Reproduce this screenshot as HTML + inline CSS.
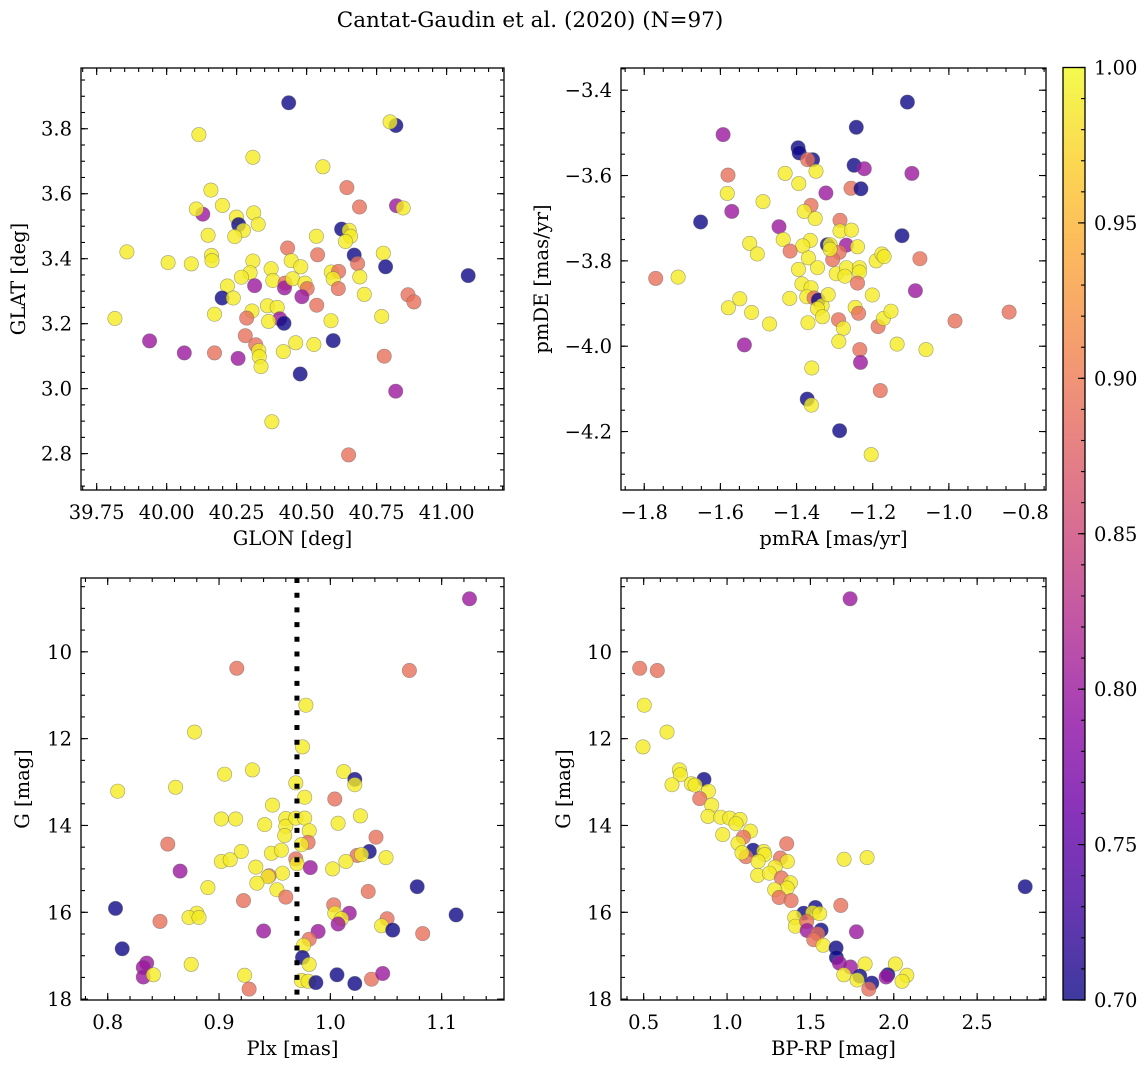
<!DOCTYPE html>
<html><head><meta charset="utf-8">
<style>
html,body{margin:0;padding:0;background:#fff;}
svg{display:block;font-family:"DejaVu Serif","Liberation Serif",serif;}
</style></head>
<body>
<svg id="fig" width="1148" height="1067" viewBox="0 0 1148 1067" xmlns="http://www.w3.org/2000/svg">
<text x="530" y="27" font-size="21.5" text-anchor="middle">Cantat-Gaudin et al. (2020) (N=97)</text>
</svg>
<script>
// ---------- Panel 1: GLON / GLAT ----------
const p1Lon=[40.436,40.819,40.798,40.115,40.308,40.558,40.644,40.158,40.689,40.821,40.845,40.199,40.129,40.106,40.249,40.257,40.274,40.243,40.311,40.327,40.148,40.625,40.652,40.657,40.639,40.535,39.858,40.432,40.539,40.774,40.670,40.682,40.782,41.077,40.005,40.088,40.160,40.162,40.308,40.298,40.267,40.373,40.379,40.445,40.479,40.588,40.614,40.595,40.690,40.706,40.423,40.421,40.450,40.494,40.502,40.483,40.314,40.217,40.198,40.238,40.613,40.862,40.883,40.536,40.768,39.815,40.171,40.360,40.395,40.404,40.419,40.364,40.305,40.286,40.587,39.939,40.063,40.171,40.255,40.281,40.318,40.329,40.331,40.337,40.417,40.461,40.526,40.595,40.477,40.777,40.818,40.376,40.650];
const p1Lat=[3.880,3.810,3.821,3.782,3.712,3.683,3.619,3.611,3.559,3.563,3.556,3.564,3.537,3.553,3.528,3.505,3.487,3.468,3.541,3.506,3.472,3.491,3.487,3.469,3.453,3.469,3.421,3.433,3.412,3.417,3.411,3.385,3.375,3.348,3.388,3.384,3.410,3.394,3.393,3.357,3.343,3.369,3.333,3.394,3.375,3.359,3.361,3.338,3.344,3.290,3.325,3.310,3.338,3.325,3.308,3.283,3.317,3.316,3.279,3.279,3.308,3.289,3.267,3.257,3.222,3.216,3.229,3.255,3.250,3.215,3.201,3.207,3.239,3.217,3.209,3.147,3.110,3.110,3.093,3.163,3.135,3.117,3.098,3.068,3.114,3.141,3.136,3.148,3.045,3.100,2.992,2.898,2.796];
const p1Prob=[0.70,0.70,0.99,0.99,0.99,0.99,0.89,0.99,0.89,0.80,0.99,0.99,0.80,0.99,0.99,0.70,0.99,0.99,0.99,0.99,0.99,0.70,0.99,0.99,0.99,0.99,0.99,0.89,0.89,0.99,0.70,0.89,0.70,0.70,0.99,0.99,0.99,0.99,0.99,0.99,0.99,0.99,0.99,0.99,0.99,0.99,0.89,0.99,0.99,0.99,0.89,0.80,0.99,0.99,0.89,0.80,0.80,0.99,0.70,0.99,0.89,0.89,0.89,0.89,0.99,0.99,0.99,0.99,0.99,0.80,0.70,0.99,0.99,0.89,0.99,0.80,0.80,0.89,0.80,0.89,0.89,0.99,0.99,0.99,0.99,0.99,0.99,0.70,0.70,0.89,0.80,0.99,0.89];
const p1XTicks=[39.75,40.00,40.25,40.50,40.75,41.00];
const p1XLabels=["39.75","40.00","40.25","40.50","40.75","41.00"];
const p1YTicks=[2.8,3.0,3.2,3.4,3.6,3.8];
const p1YLabels=["2.8","3.0","3.2","3.4","3.6","3.8"];

// ---------- Panel 2: pmRA / pmDE ----------
const p2RA=[-1.109,-1.243,-1.593,-1.396,-1.393,-1.358,-1.371,-1.349,-1.430,-1.249,-1.222,-1.097,-1.580,-1.394,-1.257,-1.231,-1.323,-1.582,-1.488,-1.362,-1.380,-1.570,-1.351,-1.652,-1.286,-1.286,-1.256,-1.446,-1.123,-1.435,-1.523,-1.503,-1.364,-1.384,-1.319,-1.312,-1.269,-1.240,-1.417,-1.288,-1.305,-1.312,-1.369,-1.191,-1.176,-1.170,-1.076,-1.770,-1.711,-1.395,-1.345,-1.296,-1.269,-1.273,-1.235,-1.235,-1.240,-1.386,-1.362,-1.088,-1.373,-1.354,-1.343,-1.333,-1.317,-1.418,-1.201,-1.549,-1.579,-1.518,-1.345,-1.332,-1.246,-1.237,-1.290,-1.277,-1.370,-1.471,-1.186,-1.172,-1.152,-0.984,-0.842,-1.289,-1.136,-1.060,-1.537,-1.234,-1.232,-1.360,-1.180,-1.372,-1.361,-1.287,-1.204];
const p2DE=[-3.428,-3.487,-3.504,-3.535,-3.547,-3.563,-3.563,-3.590,-3.595,-3.576,-3.584,-3.595,-3.599,-3.619,-3.630,-3.631,-3.641,-3.642,-3.661,-3.670,-3.684,-3.684,-3.701,-3.709,-3.705,-3.730,-3.728,-3.720,-3.741,-3.750,-3.759,-3.784,-3.752,-3.765,-3.762,-3.762,-3.763,-3.767,-3.777,-3.780,-3.797,-3.773,-3.793,-3.800,-3.784,-3.790,-3.795,-3.841,-3.838,-3.820,-3.816,-3.830,-3.816,-3.836,-3.816,-3.826,-3.852,-3.854,-3.863,-3.870,-3.884,-3.887,-3.892,-3.905,-3.879,-3.888,-3.880,-3.889,-3.910,-3.921,-3.912,-3.931,-3.909,-3.923,-3.938,-3.958,-3.945,-3.948,-3.954,-3.935,-3.918,-3.941,-3.920,-3.989,-3.995,-4.008,-3.997,-4.008,-4.038,-4.051,-4.104,-4.124,-4.138,-4.198,-4.254];
const p2Prob=[0.70,0.70,0.80,0.70,0.70,0.70,0.89,0.99,0.99,0.70,0.80,0.80,0.89,0.99,0.89,0.70,0.80,0.99,0.99,0.89,0.99,0.80,0.99,0.70,0.89,0.99,0.99,0.80,0.70,0.99,0.99,0.99,0.99,0.99,0.70,0.99,0.80,0.99,0.89,0.89,0.89,0.99,0.99,0.99,0.99,0.99,0.89,0.89,0.99,0.99,0.99,0.99,0.99,0.99,0.99,0.99,0.89,0.99,0.99,0.80,0.99,0.89,0.70,0.99,0.99,0.99,0.99,0.99,0.99,0.99,0.99,0.99,0.99,0.89,0.89,0.99,0.99,0.99,0.89,0.99,0.99,0.89,0.89,0.99,0.99,0.99,0.80,0.89,0.80,0.99,0.89,0.70,0.99,0.70,0.99];
const p2XTicks=[-1.8,-1.6,-1.4,-1.2,-1.0,-0.8];
const p2XLabels=["\u22121.8","\u22121.6","\u22121.4","\u22121.2","\u22121.0","\u22120.8"];
const p2YTicks=[-3.4,-3.6,-3.8,-4.0,-4.2];
const p2YLabels=["\u22123.4","\u22123.6","\u22123.8","\u22124.0","\u22124.2"];

// ---------- Panel 3: Plx / G ----------
const p3Plx=[1.125,0.916,1.071,0.978,0.878,0.975,0.905,0.930,1.012,1.022,1.022,0.809,0.861,0.969,0.977,1.004,0.948,0.902,0.915,0.941,0.960,0.960,0.969,0.977,1.007,1.027,0.981,0.959,1.041,0.854,0.980,0.974,0.920,0.947,0.956,1.035,1.024,1.028,1.050,1.014,0.902,0.910,0.969,0.970,0.982,0.933,1.002,0.865,0.957,0.945,0.944,0.934,0.952,0.890,0.960,1.078,1.034,0.922,0.807,1.003,1.004,1.017,1.010,1.007,1.113,0.880,0.873,0.882,0.847,1.051,1.046,1.056,1.083,0.940,0.989,0.981,0.976,0.813,0.975,0.981,0.835,0.832,0.832,0.841,0.875,0.923,0.927,1.006,1.022,1.037,1.047,0.974,0.980,0.987];
const p3G=[8.78,10.38,10.43,11.23,11.85,12.19,12.82,12.72,12.76,12.94,13.06,13.21,13.12,13.02,13.35,13.39,13.53,13.85,13.85,13.98,13.84,14.02,13.83,13.83,13.95,13.78,14.12,14.23,14.27,14.43,14.39,14.44,14.60,14.64,14.57,14.60,14.69,14.67,14.74,14.83,14.83,14.79,14.77,14.88,14.97,14.96,15.00,15.05,15.10,15.16,15.18,15.33,15.48,15.43,15.65,15.41,15.52,15.73,15.91,15.83,16.02,16.02,16.15,16.27,16.06,16.02,16.12,16.12,16.21,16.15,16.31,16.41,16.49,16.43,16.44,16.62,16.76,16.84,17.04,17.20,17.17,17.27,17.49,17.44,17.20,17.45,17.77,17.44,17.64,17.54,17.41,17.57,17.59,17.62];
const p3Prob=[0.80,0.89,0.89,0.99,0.99,0.99,0.99,0.99,0.99,0.70,0.99,0.99,0.99,0.99,0.99,0.89,0.99,0.99,0.99,0.99,0.99,0.99,0.99,0.99,0.99,0.99,0.99,0.99,0.89,0.89,0.89,0.99,0.99,0.99,0.99,0.70,0.89,0.99,0.99,0.99,0.99,0.99,0.89,0.99,0.80,0.99,0.99,0.80,0.99,0.89,0.99,0.99,0.99,0.99,0.89,0.70,0.89,0.89,0.70,0.89,0.99,0.80,0.99,0.80,0.70,0.99,0.99,0.99,0.89,0.89,0.99,0.70,0.89,0.80,0.80,0.89,0.99,0.70,0.70,0.99,0.80,0.80,0.80,0.99,0.99,0.99,0.89,0.70,0.70,0.89,0.80,0.99,0.99,0.70];
const p3MeanPlx=[0.970];
const p3XTicks=[0.8,0.9,1.0,1.1];
const p3XLabels=["0.8","0.9","1.0","1.1"];
const gTicks=[10,12,14,16,18];
const gLabels=["10","12","14","16","18"];

// ---------- Panel 4: BP-RP / G ----------
const p4BpRp=[1.738,0.476,0.582,0.504,0.640,0.496,0.714,0.720,0.862,0.670,0.786,0.808,0.888,0.836,0.908,0.886,0.962,1.016,1.078,1.054,1.140,0.974,1.098,1.358,1.066,1.156,1.220,1.114,1.090,1.226,1.186,1.320,1.362,1.184,1.288,1.254,1.326,1.380,1.360,1.286,1.312,1.384,1.702,1.840,1.682,2.788,1.460,1.530,1.514,1.556,1.406,1.410,1.478,1.480,1.564,1.544,1.520,1.576,1.776,1.654,1.656,1.674,1.740,1.828,2.010,1.700,1.796,1.780,1.868,1.850,1.964,1.954,2.078,2.050];
const p4G=[8.78,10.38,10.43,11.23,11.85,12.19,12.72,12.83,12.94,13.06,13.04,13.07,13.21,13.38,13.53,13.79,13.81,13.83,13.86,13.96,14.13,14.21,14.27,14.42,14.41,14.57,14.60,14.72,14.63,14.67,14.83,14.75,14.83,15.15,14.96,15.10,15.21,15.32,15.44,15.48,15.66,15.73,14.78,14.74,15.84,15.41,16.02,15.89,16.01,16.03,16.12,16.32,16.21,16.42,16.41,16.50,16.63,16.76,16.45,16.82,17.04,17.17,17.26,17.19,17.19,17.44,17.47,17.56,17.63,17.77,17.44,17.49,17.45,17.59];
const p4Prob=[0.80,0.89,0.89,0.99,0.99,0.99,0.99,0.99,0.70,0.99,0.99,0.99,0.99,0.89,0.99,0.99,0.99,0.99,0.99,0.99,0.99,0.99,0.89,0.89,0.99,0.70,0.99,0.89,0.99,0.99,0.99,0.89,0.99,0.99,0.99,0.99,0.89,0.99,0.99,0.99,0.89,0.89,0.99,0.99,0.89,0.70,0.70,0.70,0.99,0.99,0.99,0.99,0.89,0.80,0.70,0.89,0.89,0.99,0.80,0.70,0.70,0.80,0.80,0.99,0.99,0.99,0.70,0.99,0.70,0.89,0.70,0.80,0.99,0.99];
const p4XTicks=[0.5,1.0,1.5,2.0,2.5];
const p4XLabels=["0.5","1.0","1.5","2.0","2.5"];

// ---------- Colorbar ----------
const cbTicks=[0.70,0.75,0.80,0.85,0.90,0.95,1.00];
const cbLabels=["0.70","0.75","0.80","0.85","0.90","0.95","1.00"];
const cbMin=0.70, cbMax=1.00;

const FS=19.5;
const NS="http://www.w3.org/2000/svg";
const svg=document.getElementById('fig');
function mk(tag,attrs,parent){const e=document.createElementNS(NS,tag);for(const k in attrs)e.setAttribute(k,attrs[k]);(parent||svg).appendChild(e);return e;}

const plasmaStops=[[13,8,135],[65,4,157],[106,0,168],[143,13,164],[177,42,144],[204,71,120],[225,100,98],[242,132,75],[252,166,54],[252,206,37],[240,249,33]];
function plasma(t){t=Math.max(0,Math.min(1,t));const f=t*10,i=Math.min(9,Math.floor(f)),r=f-i;const a=plasmaStops[i],b=plasmaStops[i+1];return `rgb(${Math.round(a[0]+(b[0]-a[0])*r)},${Math.round(a[1]+(b[1]-a[1])*r)},${Math.round(a[2]+(b[2]-a[2])*r)})`;}
function pcol(p){return plasma((p-cbMin)/(cbMax-cbMin));}

function linScale(d0,d1,r0,r1){return v=>r0+(v-d0)/(d1-d0)*(r1-r0);}

function drawPanel(cfg){
  const g=mk('g',{});
  
  
  const {L,T,R,B}=cfg.box;
  const sx=linScale(cfg.xlim[0],cfg.xlim[1],L,R);
  const sy=linScale(cfg.ylim[0],cfg.ylim[1],B,T);
  const pts=mk('g',{},g);
  
  
  for(let i=0;i<cfg.xs.length;i++){
    const c=mk('circle',{cx:sx(cfg.xs[i]).toFixed(1),cy:sy(cfg.ys[i]).toFixed(1),r:7.2,fill:pcol(cfg.ps[i]),'fill-opacity':0.8,stroke:'#666','stroke-opacity':0.6,'stroke-width':0.6},pts);
    
    
  }
  if(cfg.extra) cfg.extra(g,sx,sy);
  const tk=mk('g',{stroke:'#000','stroke-width':1.1},g);
  cfg.xticks.forEach((v,i)=>{const x=sx(v);
    mk('line',{x1:x,y1:B,x2:x,y2:B-7},tk);mk('line',{x1:x,y1:T,x2:x,y2:T+7},tk);
    const t=mk('text',{x:x,y:B+29,'font-size':FS,'text-anchor':'middle',stroke:'none',fill:'#000'},g);t.textContent=cfg.xlabels[i];
    
    
  });
  cfg.yticks.forEach((v,i)=>{const y=sy(v);
    mk('line',{x1:L,y1:y,x2:L+7,y2:y},tk);mk('line',{x1:R,y1:y,x2:R-7,y2:y},tk);
    const t=mk('text',{x:L-9,y:y+7,'font-size':FS,'text-anchor':'end',stroke:'none',fill:'#000'},g);t.textContent=cfg.ylabels[i];
    
    
  });
  const lo=Math.min(...cfg.xlim),hi=Math.max(...cfg.xlim);
  for(let v=Math.ceil(lo/cfg.xminor-1e-6)*cfg.xminor;v<=hi+1e-9;v+=cfg.xminor){const x=sx(v);
    mk('line',{x1:x,y1:B,x2:x,y2:B-4},tk);mk('line',{x1:x,y1:T,x2:x,y2:T+4},tk);}
  const ylo=Math.min(...cfg.ylim),yhi=Math.max(...cfg.ylim);
  for(let v=Math.ceil(ylo/cfg.yminor-1e-6)*cfg.yminor;v<=yhi+1e-9;v+=cfg.yminor){const y=sy(v);
    mk('line',{x1:L,y1:y,x2:L+4,y2:y},tk);mk('line',{x1:R,y1:y,x2:R-4,y2:y},tk);}
  const fr=mk('rect',{x:L,y:T,width:R-L,height:B-T,fill:'none',stroke:'#000','stroke-width':1.3},g);
  
  
  const xl=mk('text',{x:(L+R)/2,y:B+55,'font-size':FS,'text-anchor':'middle'},g);xl.textContent=cfg.xtitle;
  
  
  const yx=cfg.ytitleX, yy=(T+B)/2;
  const yl=mk('text',{x:yx,y:yy,'font-size':FS,'text-anchor':'middle',transform:`rotate(-90 ${yx} ${yy})`},g);yl.textContent=cfg.ytitle;
  
  
}

drawPanel({name:'glon-glat-panel',box:{L:81,T:68,R:504,B:490},xlim:[39.694,41.205],ylim:[2.688,3.987],
  xs:p1Lon,ys:p1Lat,ps:p1Prob,xticks:p1XTicks,xlabels:p1XLabels,yticks:p1YTicks,ylabels:p1YLabels,
  xminor:0.05,yminor:0.05,xtitle:'GLON [deg]',ytitle:'GLAT [deg]',ytitleX:25});
drawPanel({name:'proper-motion-panel',box:{L:621,T:68,R:1046,B:490},xlim:[-1.861,-0.745],ylim:[-4.337,-3.348],
  xs:p2RA,ys:p2DE,ps:p2Prob,xticks:p2XTicks,xlabels:p2XLabels,yticks:p2YTicks,ylabels:p2YLabels,
  xminor:0.05,yminor:0.05,xtitle:'pmRA [mas/yr]',ytitle:'pmDE [mas/yr]',ytitleX:548});
drawPanel({name:'parallax-panel',box:{L:81,T:578,R:504,B:1000},xlim:[0.776,1.156],ylim:[18.02,8.30],
  xs:p3Plx,ys:p3G,ps:p3Prob,xticks:p3XTicks,xlabels:p3XLabels,yticks:gTicks,ylabels:gLabels,
  xminor:0.02,yminor:0.5,xtitle:'Plx [mas]',ytitle:'G [mag]',ytitleX:29,
  extra:(g,sx,sy)=>{p3MeanPlx.forEach(v=>{const x=sx(v);
    const l=mk('line',{x1:x,y1:578,x2:x,y2:1000,stroke:'#000','stroke-width':5,'stroke-dasharray':'5 9.7'},g);
    
    });}});
drawPanel({name:'cmd-panel',box:{L:621,T:578,R:1046,B:1000},xlim:[0.364,2.913],ylim:[18.02,8.30],
  xs:p4BpRp,ys:p4G,ps:p4Prob,xticks:p4XTicks,xlabels:p4XLabels,yticks:gTicks,ylabels:gLabels,
  xminor:0.1,yminor:0.5,xtitle:'BP-RP [mag]',ytitle:'G [mag]',ytitleX:570});

(function(){
  const L=1063,R=1085,T=67.5,B=1000;
  const g=mk('g',{});
  
  
  const defs=mk('defs',{},g);
  const lg=mk('linearGradient',{id:'cbg',x1:0,y1:1,x2:0,y2:0},defs);
  for(let i=0;i<=20;i++){mk('stop',{offset:i/20,'stop-color':plasma(i/20),'stop-opacity':0.8},lg);}
  mk('rect',{x:L,y:T,width:R-L,height:B-T,fill:'url(#cbg)'},g);
  const sc=linScale(cbMin,cbMax,B,T);
  for(let k=0;k<=30;k++){const y=sc(cbMin+k*0.01);mk('line',{x1:R,y1:y,x2:R-4,y2:y,stroke:'#000','stroke-width':1.1},g);}
  cbTicks.forEach((v,i)=>{const y=sc(v);mk('line',{x1:R,y1:y,x2:R-7,y2:y,stroke:'#000','stroke-width':1.1},g);
    const t=mk('text',{x:R+9,y:y+7,'font-size':FS},g);t.textContent=cbLabels[i];
    
    });
  mk('rect',{x:L,y:T,width:R-L,height:B-T,fill:'none',stroke:'#000','stroke-width':1.3},g);
})();
</script>
</body></html>
